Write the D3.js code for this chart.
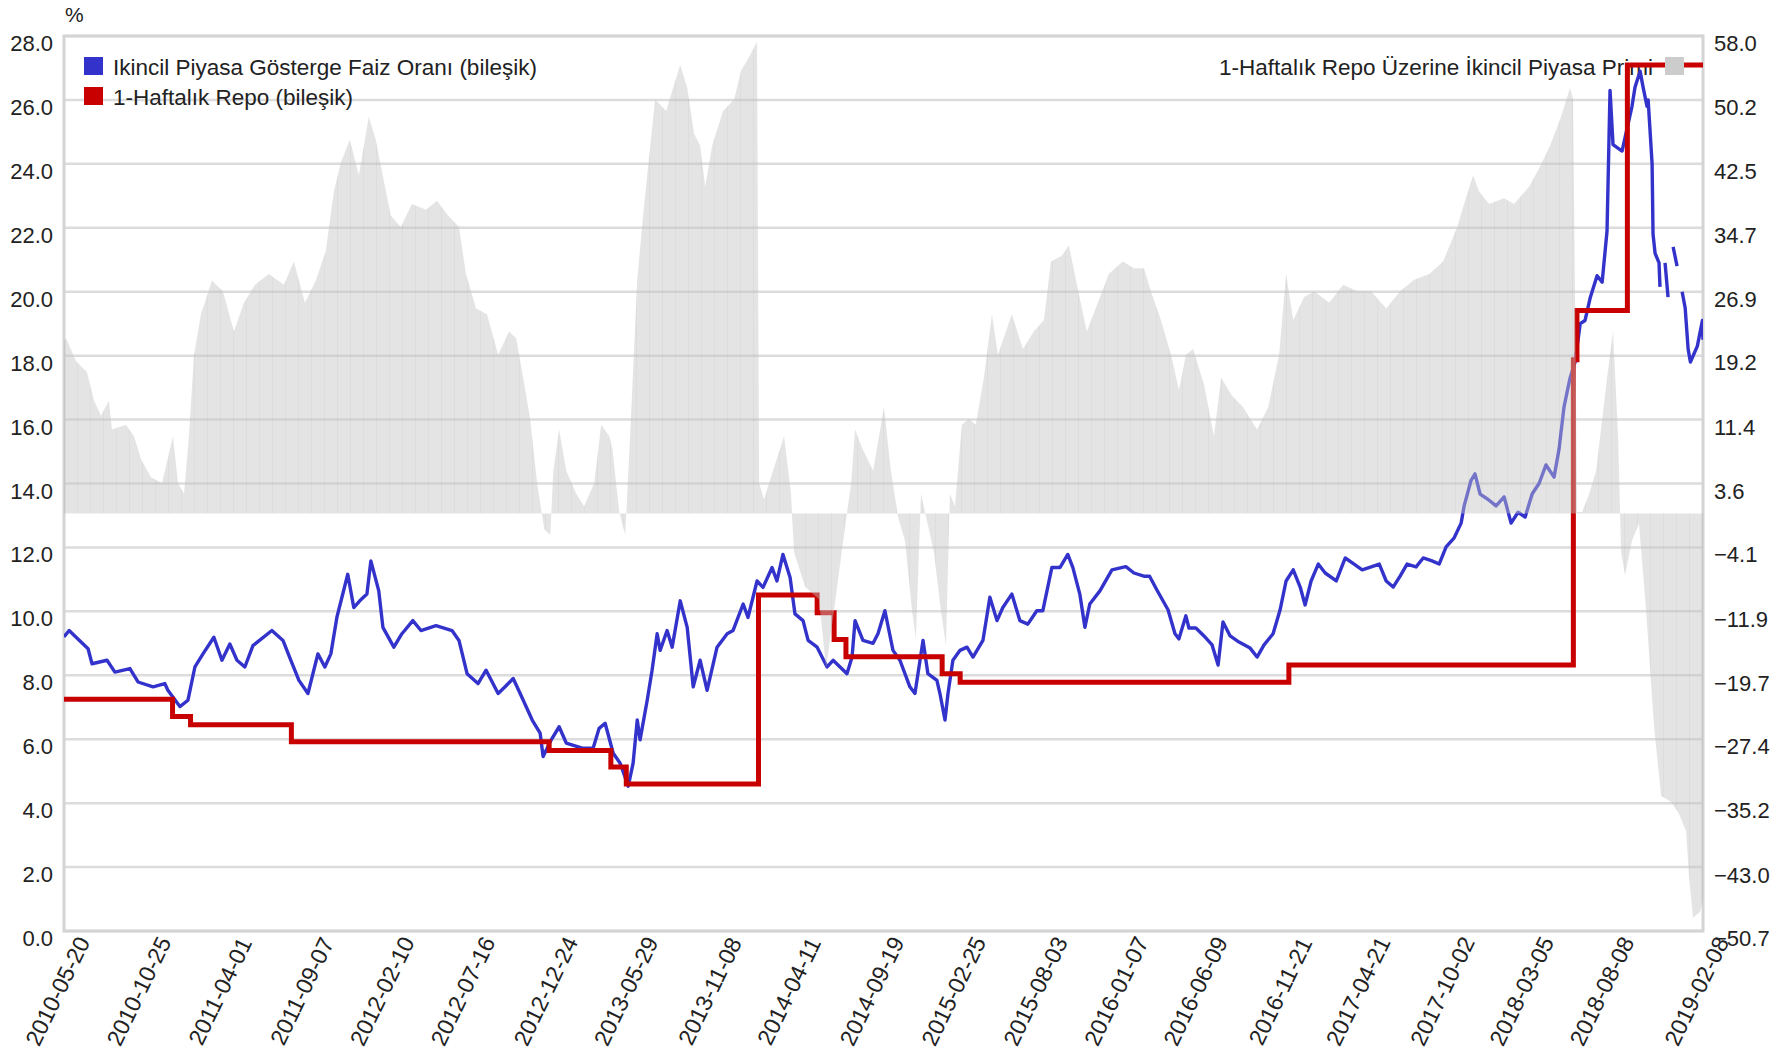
<!DOCTYPE html>
<html>
<head>
<meta charset="utf-8">
<script src="https://cdn.jsdelivr.net/npm/d3@7"></script>
<style>
  body { margin: 0; background: #fff; }
  text { font-family: "Liberation Sans", Arial, sans-serif; fill: #222; }
</style>
</head>
<body>
<svg id="chart" width="1779" height="1051"></svg>
<script>
// x tick labels (dates), y ticks
const xTickLabels = ["2010-05-20", "2010-10-25", "2011-04-01", "2011-09-07", "2012-02-10", "2012-07-16",
  "2012-12-24", "2013-05-29", "2013-11-08", "2014-04-11", "2014-09-19", "2015-02-25", "2015-08-03",
  "2016-01-07", "2016-06-09", "2016-11-21", "2017-04-21", "2017-10-02", "2018-03-05", "2018-08-08", "2019-02-08"];
const leftTicks = [0, 2, 4, 6, 8, 10, 12, 14, 16, 18, 20, 22, 24, 26, 28];
const rightTicks = [58.0, 50.2, 42.5, 34.7, 26.9, 19.2, 11.4, 3.6, -4.1, -11.9, -19.7, -27.4, -35.2, -43.0, -50.7];

const seriesNames = ["Ikincil Piyasa Gösterge Faiz Oranı (bileşik)", "1-Haftalık Repo (bileşik)",
  "1-Haftalık Repo Üzerine İkincil Piyasa Primi"];
const seriesColors = ["#3333cc", "#c80000", "#cccccc"];

// benchmark secondary market rate (decimal year, %)
const benchDates = [2010.381, 2010.386, 2010.408, 2010.509, 2010.530, 2010.610, 2010.652, 2010.732, 2010.775, 2010.855,
  2010.918, 2010.934, 2010.998, 2011.041, 2011.078, 2011.121, 2011.179, 2011.222, 2011.264, 2011.302,
  2011.344, 2011.387, 2011.488, 2011.547, 2011.589, 2011.632, 2011.680, 2011.733, 2011.770, 2011.802,
  2011.834, 2011.892, 2011.924, 2011.956, 2011.994, 2012.015, 2012.057, 2012.079, 2012.137, 2012.180,
  2012.238, 2012.281, 2012.361, 2012.446, 2012.483, 2012.526, 2012.584, 2012.627, 2012.691, 2012.728,
  2012.771, 2012.808, 2012.872, 2012.914, 2012.930, 2012.973, 2013.015, 2013.053, 2013.138, 2013.196,
  2013.228, 2013.260, 2013.303, 2013.340, 2013.383, 2013.409, 2013.431, 2013.446, 2013.484, 2013.510,
  2013.537, 2013.553, 2013.590, 2013.617, 2013.660, 2013.697, 2013.729, 2013.766, 2013.803, 2013.856,
  2013.910, 2013.941, 2013.995, 2014.021, 2014.069, 2014.101, 2014.149, 2014.175, 2014.207, 2014.245,
  2014.271, 2014.314, 2014.341, 2014.389, 2014.442, 2014.474, 2014.511, 2014.548, 2014.575, 2014.591,
  2014.633, 2014.687, 2014.713, 2014.750, 2014.793, 2014.830, 2014.883, 2014.910, 2014.953, 2014.979,
  2015.027, 2015.043, 2015.070, 2015.086, 2015.112, 2015.150, 2015.187, 2015.219, 2015.272, 2015.309,
  2015.347, 2015.378, 2015.426, 2015.469, 2015.511, 2015.559, 2015.591, 2015.639, 2015.682, 2015.724,
  2015.751, 2015.788, 2015.815, 2015.841, 2015.895, 2015.959, 2016.033, 2016.076, 2016.129, 2016.159,
  2016.198, 2016.257, 2016.294, 2016.315, 2016.352, 2016.368, 2016.405, 2016.448, 2016.491, 2016.523,
  2016.549, 2016.587, 2016.634, 2016.693, 2016.730, 2016.767, 2016.815, 2016.852, 2016.884, 2016.922,
  2016.959, 2016.985, 2017.017, 2017.055, 2017.092, 2017.151, 2017.199, 2017.246, 2017.289, 2017.337,
  2017.380, 2017.417, 2017.454, 2017.491, 2017.528, 2017.576, 2017.614, 2017.661, 2017.699, 2017.736,
  2017.779, 2017.816, 2017.832, 2017.869, 2017.890, 2017.917, 2017.960, 2018.002, 2018.045, 2018.082,
  2018.119, 2018.157, 2018.194, 2018.231, 2018.268, 2018.311, 2018.338, 2018.364, 2018.396, 2018.423,
  2018.450, 2018.476, 2018.503, 2018.540, 2018.567, 2018.593, 2018.609, 2018.625, 2018.673, 2018.726,
  2018.742, 2018.769, 2018.785, 2018.806, 2018.812, 2018.833, 2018.838, 2018.849, 2018.870, 2018.875,
  2018.888, 2018.902, 2018.918, 2018.930, 2018.945, 2018.966, 2018.980, 2018.993, 2019.009, 2019.025,
  2019.037, 2019.074, 2019.101, 2019.104];
const benchRate = [9.3, 9.24, 9.40, 8.83, 8.36, 8.47, 8.10, 8.21, 7.79, 7.64,
  7.74, 7.53, 7.02, 7.22, 8.26, 8.67, 9.19, 8.47, 8.98, 8.47,
  8.26, 8.93, 9.40, 9.09, 8.47, 7.84, 7.43, 8.67, 8.26, 8.67,
  9.81, 11.16, 10.12, 10.33, 10.54, 11.58, 10.64, 9.50, 8.88, 9.30,
  9.71, 9.40, 9.55, 9.40, 9.09, 8.05, 7.74, 8.16, 7.43, 7.64,
  7.90, 7.43, 6.60, 6.19, 5.46, 5.98, 6.39, 5.88, 5.72, 5.72,
  6.34, 6.50, 5.56, 5.25, 4.53, 5.25, 6.60, 5.98, 7.22, 8.16,
  9.30, 8.78, 9.40, 8.88, 10.33, 9.50, 7.64, 8.47, 7.53, 8.88,
  9.30, 9.40, 10.23, 9.81, 10.95, 10.75, 11.37, 10.95, 11.78, 11.06,
  9.92, 9.71, 9.09, 8.88, 8.26, 8.47, 8.26, 8.05, 8.57, 9.71,
  9.09, 9.00, 9.30, 10.02, 8.78, 8.47, 7.64, 7.43, 9.09, 8.05,
  7.84, 7.43, 6.60, 7.43, 8.47, 8.78, 8.88, 8.57, 9.09, 10.44,
  9.71, 10.12, 10.54, 9.71, 9.60, 10.02, 10.02, 11.37, 11.37, 11.78,
  11.37, 10.54, 9.50, 10.23, 10.64, 11.30, 11.40, 11.20, 11.10, 11.10,
  10.67, 10.05, 9.30, 9.14, 9.86, 9.48, 9.48, 9.23, 8.95, 8.32,
  9.67, 9.23, 9.04, 8.85, 8.57, 8.95, 9.30, 10.04, 10.95, 11.30,
  10.76, 10.20, 10.95, 11.48, 11.20, 10.95, 11.67, 11.48, 11.30, 11.39,
  11.48, 10.95, 10.76, 11.10, 11.48, 11.39, 11.67, 11.58, 11.48, 12.02,
  12.30, 12.76, 13.30, 14.10, 14.30, 13.67, 13.50, 13.30, 13.58, 12.76,
  13.10, 12.95, 13.67, 14.00, 14.58, 14.20, 15.10, 16.40, 17.30, 17.80,
  19.00, 19.10, 19.80, 20.50, 20.30, 21.90, 26.30, 24.60, 24.40, 25.80,
  26.40, 26.90, 26.40, 25.80, 26.00, 24.00, 21.80, 21.20, 20.90, 20.15,
  null, 20.90, 19.83, null, 21.40, 20.80, null, 20.00, 19.50, 18.20,
  17.80, 18.30, 19.10, 18.50];

// 1-week repo, compounded (change dates)
const repoDates = ["2010-05-20", "2010-12-17", "2011-01-21", "2011-08-05", "2012-12-18", "2013-04-17",
  "2013-05-17", "2014-01-29", "2014-05-23", "2014-06-25", "2014-07-18", "2015-01-21", "2015-02-25",
  "2016-11-25", "2018-06-01", "2018-06-08", "2018-09-14", "2019-02-08"];
const repoRate = [7.25, 6.71, 6.45, 5.92, 5.65, 5.13, 4.60, 10.51, 9.96, 9.12, 8.58, 8.05, 7.78,
  8.32, 17.87, 19.41, 27.09, 27.09];

// premium over repo (right axis)
const premDates = [2010.381, 2010.392, 2010.445, 2010.503, 2010.541, 2010.578, 2010.620, 2010.636, 2010.711, 2010.754,
  2010.791, 2010.844, 2010.903, 2010.961, 2010.988, 2011.020, 2011.046, 2011.073, 2011.110, 2011.169,
  2011.227, 2011.286, 2011.339, 2011.398, 2011.472, 2011.552, 2011.605, 2011.664, 2011.722, 2011.775,
  2011.818, 2011.855, 2011.903, 2011.951, 2012.004, 2012.041, 2012.084, 2012.121, 2012.174, 2012.233,
  2012.308, 2012.366, 2012.425, 2012.483, 2012.520, 2012.574, 2012.632, 2012.691, 2012.749, 2012.787,
  2012.824, 2012.861, 2012.898, 2012.936, 2012.968, 2012.984, 2013.015, 2013.053, 2013.106, 2013.148,
  2013.202, 2013.239, 2013.282, 2013.298, 2013.335, 2013.367, 2013.393, 2013.431, 2013.468, 2013.526,
  2013.585, 2013.622, 2013.660, 2013.697, 2013.734, 2013.766, 2013.793, 2013.830, 2013.888, 2013.947,
  2013.984, 2014.021, 2014.069, 2014.080, 2014.106, 2014.154, 2014.213, 2014.250, 2014.266, 2014.325,
  2014.399, 2014.437, 2014.479, 2014.532, 2014.570, 2014.591, 2014.628, 2014.687, 2014.745, 2014.782,
  2014.820, 2014.857, 2014.894, 2014.915, 2014.942, 2014.969, 2015.011, 2015.048, 2015.075, 2015.096,
  2015.123, 2015.160, 2015.197, 2015.234, 2015.277, 2015.320, 2015.352, 2015.426, 2015.485, 2015.543,
  2015.597, 2015.634, 2015.692, 2015.730, 2015.767, 2015.825, 2015.884, 2015.942, 2016.017, 2016.076,
  2016.129, 2016.166, 2016.219, 2016.273, 2016.315, 2016.352, 2016.390, 2016.448, 2016.501, 2016.539,
  2016.597, 2016.656, 2016.730, 2016.789, 2016.847, 2016.884, 2016.922, 2016.980, 2017.034, 2017.113,
  2017.188, 2017.263, 2017.337, 2017.417, 2017.491, 2017.566, 2017.646, 2017.720, 2017.795, 2017.832,
  2017.880, 2017.912, 2017.965, 2018.045, 2018.098, 2018.178, 2018.231, 2018.290, 2018.348, 2018.396,
  2018.412, 2018.434, 2018.460, 2018.498, 2018.535, 2018.593, 2018.625, 2018.652, 2018.668, 2018.689,
  2018.726, 2018.763, 2018.801, 2018.843, 2018.881, 2018.934, 2018.977, 2019.014, 2019.030, 2019.051,
  2019.088, 2019.104];
const premium = [21.0, 21.3, 18.5, 17.2, 13.7, 11.9, 13.7, 10.2, 10.8, 9.4,
  6.6, 4.4, 3.7, 9.4, 3.7, 2.4, 9.4, 19.2, 24.2, 28.3,
  27.0, 22.1, 25.6, 27.8, 29.1, 27.8, 30.6, 25.6, 28.3, 31.9,
  39.1, 42.6, 45.4, 41.1, 48.2, 45.4, 40.4, 36.2, 34.8, 37.6,
  36.9, 38.0, 36.2, 34.8, 29.1, 24.9, 24.2, 19.3, 22.1, 21.3,
  16.5, 11.5, 3.7, -1.9, -2.6, 5.2, 10.2, 5.2, 2.4, 0.9,
  3.7, 10.8, 9.4, 8.0, 0.2, -2.6, 9.4, 28.4, 37.6, 50.3,
  48.9, 51.7, 54.5, 51.7, 46.1, 44.7, 39.7, 44.7, 48.9, 50.3,
  53.8, 55.2, 57.3, 3.7, 1.7, 5.2, 9.4, 2.4, -4.7, -8.9,
  -10.4, -18.8, -11.7, -2.6, 3.7, 10.2, 8.0, 5.2, 12.9, 5.2,
  -0.4, -3.3, -11.7, -15.2, 2.4, -0.4, -4.7, -11.7, -16.0, 2.4,
  0.9, 10.8, 11.5, 10.8, 16.5, 24.2, 19.3, 24.2, 20.0, 22.1,
  23.5, 30.6, 31.3, 32.6, 28.4, 22.1, 25.6, 29.1, 30.6, 29.8,
  29.8, 27.0, 23.5, 19.3, 15.0, 19.3, 20.0, 15.7, 9.4, 16.5,
  14.3, 12.9, 10.2, 12.9, 19.3, 29.1, 23.5, 26.3, 27.0, 25.6,
  27.8, 27.0, 27.0, 24.9, 27.0, 28.4, 29.1, 30.6, 34.8, 37.6,
  41.1, 39.1, 37.6, 38.3, 37.6, 39.7, 41.9, 44.7, 48.2, 51.7,
  50.3, 0.2, 0.2, 2.4, 5.2, 16.5, 22.1, 9.4, -4.7, -7.5,
  -3.3, -1.2, -11.7, -25.8, -34.3, -35.0, -36.5, -38.6, -44.1, -49.1,
  -48.4, -46.9];

const M = {left: 64, right: 1703, top: 36, bottom: 931};
const parse = d3.utcParse("%Y-%m-%d");
const fromYear = yr => {
    const y = Math.floor(yr), a = Date.UTC(y, 0, 1), b = Date.UTC(y + 1, 0, 1);
    return new Date(a + (yr - y) * (b - a));
};

const x = d3.scaleUtc()
    .domain([parse(xTickLabels[0]), parse(xTickLabels[xTickLabels.length - 1])])
    .range([M.left, M.right]);
const y = d3.scaleLinear().domain([0, 28]).range([M.bottom, M.top]);
const y2 = d3.scaleLinear().domain([-50.7, 58.0]).range([M.bottom, M.top]);

const svg = d3.select("#chart");
const defs = svg.append("defs");

defs.append("clipPath").attr("id", "plot")
    .append("rect")
    .attr("x", M.left).attr("y", M.top)
    .attr("width", M.right - M.left).attr("height", M.bottom - M.top);

// faint vertical striping seen in the premium bars
const stripe = defs.append("pattern")
    .attr("id", "stripes")
    .attr("patternUnits", "userSpaceOnUse")
    .attr("width", 13).attr("height", 20);
stripe.append("rect").attr("width", 13).attr("height", 20).attr("fill", "#c4c4c4");
stripe.append("rect").attr("x", 12).attr("width", 1).attr("height", 20).attr("fill", "#b4b4b4");

// grid
svg.append("g")
    .selectAll("line")
    .data(leftTicks)
    .join("line")
    .attr("x1", M.left).attr("x2", M.right)
    .attr("y1", d => y(d)).attr("y2", d => y(d))
    .attr("stroke", "#dcdcdc")
    .attr("stroke-width", 2.5);

svg.append("rect")
    .attr("x", M.left).attr("y", M.top)
    .attr("width", M.right - M.left).attr("height", M.bottom - M.top)
    .attr("fill", "none")
    .attr("stroke", "#d4d4d4")
    .attr("stroke-width", 3);

// legend texts (drawn under the lines)
const legendLeft = svg.append("g");
[0, 1].forEach(i => {
    legendLeft.append("rect")
        .attr("x", 84).attr("y", 57 + i * 30)
        .attr("width", 19).attr("height", 18)
        .attr("fill", seriesColors[i]);
    legendLeft.append("text")
        .attr("x", 113).attr("y", 75 + i * 30)
        .attr("font-size", 22.5)
        .text(seriesNames[i]);
});
svg.append("text")
    .attr("x", 1653).attr("y", 75)
    .attr("text-anchor", "end")
    .attr("font-size", 22.5)
    .text(seriesNames[2]);

const plot = svg.append("g").attr("clip-path", "url(#plot)");

const bench = benchDates.map((t, i) => ({t: fromYear(t), v: benchRate[i]}));
plot.append("path")
    .datum(bench)
    .attr("fill", "none")
    .attr("stroke", seriesColors[0])
    .attr("stroke-width", 3.4)
    .attr("stroke-linejoin", "round")
    .attr("d", d3.line().defined(d => d.v != null).x(d => x(d.t)).y(d => y(d.v)));

const repo = repoDates.map((t, i) => ({t: parse(t), v: repoRate[i]}));
plot.append("path")
    .datum(repo)
    .attr("fill", "none")
    .attr("stroke", seriesColors[1])
    .attr("stroke-width", 5)
    .attr("d", d3.line().curve(d3.curveStepAfter).x(d => x(d.t)).y(d => y(d.v)));

// premium drawn on top, semi transparent
const prem = premDates.map((t, i) => ({t: fromYear(t), v: premium[i]}));
plot.append("path")
    .datum(prem)
    .attr("fill", "url(#stripes)")
    .attr("fill-opacity", 0.45)
    .attr("d", d3.area().x(d => x(d.t)).y0(y2(0)).y1(d => y2(d.v)));

svg.append("rect")
    .attr("x", 1665).attr("y", 57)
    .attr("width", 19).attr("height", 18)
    .attr("fill", seriesColors[2]);

svg.append("text")
    .attr("x", 65).attr("y", 22)
    .attr("font-size", 21)
    .text("%");

// axes
svg.append("g")
    .attr("transform", `translate(${M.left},0)`)
    .call(d3.axisLeft(y).tickValues(leftTicks).tickFormat(d3.format(".1f")).tickSize(0).tickPadding(11))
    .call(g => g.select(".domain").remove())
    .attr("font-size", 22)
    .selectAll("text").attr("dy", "0.66em");

svg.append("g")
    .attr("transform", `translate(${M.right},0)`)
    .call(d3.axisRight(y2).tickValues(rightTicks).tickFormat(d3.format(".1f")).tickSize(0).tickPadding(11))
    .call(g => g.select(".domain").remove())
    .attr("font-size", 22)
    .selectAll("text").attr("dy", "0.66em");

svg.append("g")
    .attr("transform", `translate(0,${M.bottom})`)
    .call(d3.axisBottom(x).tickValues(xTickLabels.map(parse)).tickFormat(d3.utcFormat("%Y-%m-%d")).tickSize(0))
    .call(g => g.select(".domain").remove())
    .attr("font-size", 23)
    .selectAll("text")
    .attr("text-anchor", "middle")
    .attr("x", -7).attr("y", 60).attr("dy", "0.35em")
    .attr("transform", "rotate(-64,-7,60)");
</script>
</body>
</html>
